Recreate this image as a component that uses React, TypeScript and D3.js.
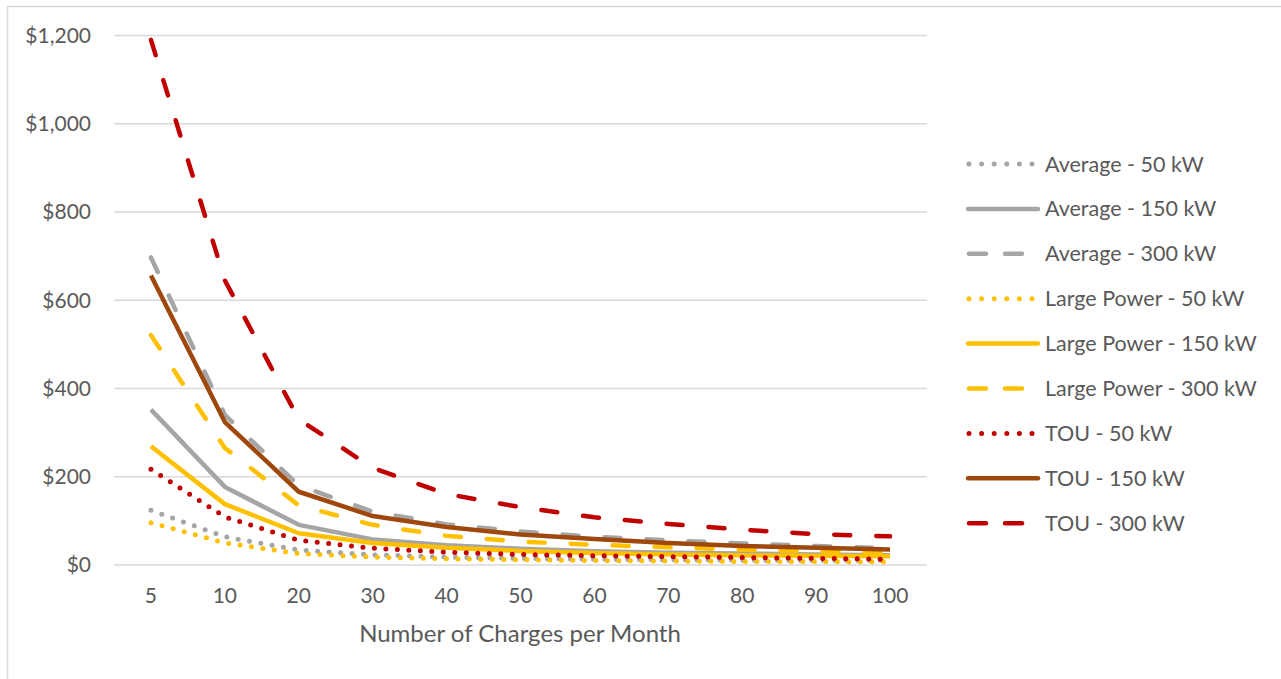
import * as d3 from "d3";
import React from "react";
import { useEffect, useRef } from "react";

const categories = [5, 10, 20, 30, 40, 50, 60, 70, 80, 90, 100];

const avg50 = [124, 64, 34, 23, 18, 15, 13, 12, 11, 10, 10];
const avg150 = [352, 177, 91, 58, 45, 37, 31, 28, 26, 24, 22];
const avg300 = [697, 340, 180, 121, 92, 76, 64, 56, 49, 43, 38];
const lp50 = [96, 50, 26, 18, 14, 12, 10, 9, 8, 8, 7];
const lp150 = [269, 138, 72, 50, 39, 32, 27, 24, 22, 21, 20];
const lp300 = [521, 265, 135, 91, 66, 53, 46, 40, 35, 31, 28];
const tou50 = [217, 109, 56, 38, 29, 24, 21, 19, 17, 15, 13];
const tou150 = [656, 324, 166, 111, 86, 69, 59, 50, 43, 39, 35];
const tou300 = [1190, 645, 330, 220, 161, 131, 108, 93, 80, 70, 65];

const yTicks = [0, 200, 400, 600, 800, 1000, 1200];

interface Series {
    name: string,
    values: number[],
    color: string,
    dash: string
}

const GRAY = "#A5A5A5", GOLD = "#FFC000", RED = "#C00000", BROWN = "#9E480E";
const DOT = "0 11.5", SOLID = "none", LONGDASH = "16 26";

const series: Series[] = [
    { name: "Average - 50 kW", values: avg50, color: GRAY, dash: DOT },
    { name: "Average - 150 kW", values: avg150, color: GRAY, dash: SOLID },
    { name: "Average - 300 kW", values: avg300, color: GRAY, dash: LONGDASH },
    { name: "Large Power - 50 kW", values: lp50, color: GOLD, dash: DOT },
    { name: "Large Power - 150 kW", values: lp150, color: GOLD, dash: SOLID },
    { name: "Large Power - 300 kW", values: lp300, color: GOLD, dash: LONGDASH },
    { name: "TOU - 50 kW", values: tou50, color: RED, dash: DOT },
    { name: "TOU - 150 kW", values: tou150, color: BROWN, dash: SOLID },
    { name: "TOU - 300 kW", values: tou300, color: RED, dash: LONGDASH },
];

const App = () => {
    const chartArea = useRef(null);
    const width = 1281, height = 679;
    const font = "Lato, 'Open Sans', sans-serif";
    const textColor = "#595959";

    useEffect(() => {
        const svg = d3.select(chartArea.current);
        svg.selectAll("*").remove();

        // outer frame (only top and left edges are visible)
        svg.append("rect")
            .attr("x", 7.5).attr("y", 6.5)
            .attr("width", 1400).attr("height", 800)
            .attr("fill", "white")
            .attr("stroke", "#D9D9D9")
            .attr("stroke-width", 1.5);

        const x = d3.scalePoint<number>()
            .domain(categories)
            .range([114, 927])
            .padding(0.5);

        const y = d3.scaleLinear()
            .domain([0, 1200])
            .range([565, 35.5]);

        // gridlines
        svg.append("g")
            .selectAll("line")
            .data(yTicks)
            .enter()
            .append("line")
            .attr("x1", 114).attr("x2", 927)
            .attr("y1", d => y(d)).attr("y2", d => y(d))
            .attr("stroke", "#D9D9D9")
            .attr("stroke-width", 1.5);

        // y tick labels
        const fmt = d3.format(",");
        svg.append("g")
            .selectAll("text")
            .data(yTicks)
            .enter()
            .append("text")
            .attr("x", 91)
            .attr("y", d => y(d))
            .attr("dy", "0.35em")
            .attr("text-anchor", "end")
            .attr("font-family", font)
            .attr("font-size", "21px")
            .attr("fill", textColor)
            .text(d => "$" + fmt(d));

        // x tick labels
        svg.append("g")
            .selectAll("text")
            .data(categories)
            .enter()
            .append("text")
            .attr("x", d => x(d) as number)
            .attr("y", 596)
            .attr("dy", "0.35em")
            .attr("text-anchor", "middle")
            .attr("font-family", font)
            .attr("font-size", "21px")
            .attr("fill", textColor)
            .text(d => String(d));

        svg.append("text")
            .attr("x", 520)
            .attr("y", 634)
            .attr("dy", "0.35em")
            .attr("text-anchor", "middle")
            .attr("font-family", font)
            .attr("font-size", "24px")
            .attr("fill", textColor)
            .text("Number of Charges per Month");

        const line = d3.line<number>()
            .x((d, i) => x(categories[i]) as number)
            .y(d => y(d));

        svg.append("g")
            .selectAll("path")
            .data(series)
            .enter()
            .append("path")
            .attr("d", d => line(d.values))
            .attr("fill", "none")
            .attr("stroke", d => d.color)
            .attr("stroke-width", d => d.dash === DOT ? 5 : 4.5)
            .attr("stroke-dasharray", d => d.dash)
            .attr("stroke-linecap", d => d.dash === SOLID ? "butt" : "round")
            .attr("stroke-linejoin", "round");

        // legend
        const legend = svg.append("g")
            .selectAll("g")
            .data(series)
            .enter()
            .append("g")
            .attr("transform", (d, i) => "translate(0," + (164 + i * 44.9) + ")");

        legend.append("line")
            .attr("x1", d => d.dash === SOLID ? 968 : 969)
            .attr("x2", d => d.dash === SOLID ? 1038 : 1037)
            .attr("y1", 0).attr("y2", 0)
            .attr("stroke", d => d.color)
            .attr("stroke-width", d => d.dash === DOT ? 5 : 4.5)
            .attr("stroke-dasharray", d => d.dash === DOT ? "0 12.6" : d.dash === LONGDASH ? "17 19" : "none")
            .attr("stroke-linecap", "round");

        legend.append("text")
            .attr("x", 1045)
            .attr("y", 0)
            .attr("dy", "0.35em")
            .attr("font-family", font)
            .attr("font-size", "21.5px")
            .attr("fill", textColor)
            .text(d => d.name);
    }, []);

    return (
        <svg ref={chartArea} width={width} height={height}
            style={{ position: "absolute", left: 0, top: 0, background: "white" }} />
    );
};

export default App;
